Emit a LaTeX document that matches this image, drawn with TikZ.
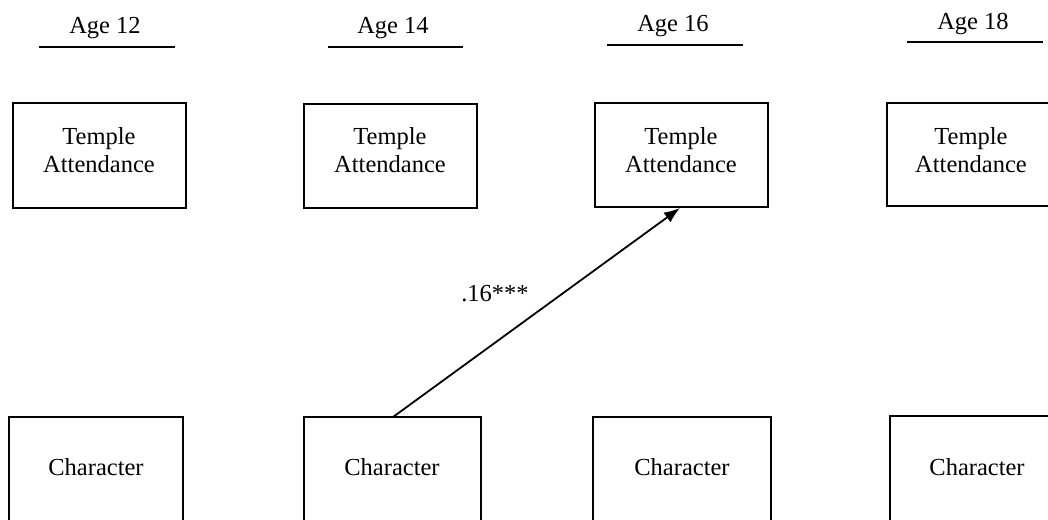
\documentclass[tikz,border=0pt]{standalone}
\usepackage{fontspec}
\setmainfont{Liberation Serif}
\usetikzlibrary{arrows.meta}
\begin{document}
\begin{tikzpicture}[x=1pt,y=-1pt,
  txt/.style={font=\fontsize{24.5}{28}\selectfont, inner sep=0pt, align=center},
  boxA/.style={draw, line width=2.3pt, rectangle},
  uline/.style={line width=1.3pt},
  arr/.style={line width=1.8pt, -{Latex[length=16pt,width=12pt]}}]
\useasboundingbox (0,0) rectangle (1048,519);
\clip (0,0) rectangle (1048,519);
% headers
\node[txt] (h1) at (105,28) {Age 12};
\node[txt] (h2) at (393,28) {Age 14};
\node[txt] (h3) at (673,26) {Age 16};
\node[txt] (h4) at (973,24) {Age 18};
\coordinate (u1a) at (39,47);  \coordinate (u1b) at (175,47);
\coordinate (u2a) at (328,47); \coordinate (u2b) at (463,47);
\coordinate (u3a) at (607,45); \coordinate (u3b) at (743,45);
\coordinate (u4a) at (907,42); \coordinate (u4b) at (1043,42);
\draw[uline] (u1a) -- (u1b);
\draw[uline] (u2a) -- (u2b);
\draw[uline] (u3a) -- (u3b);
\draw[uline] (u4a) -- (u4b);
% top boxes
\node[boxA, minimum width=173pt, minimum height=105pt] (t1) at (99.5,155.5) {};
\node[boxA, minimum width=173pt, minimum height=104pt] (t2) at (390.5,156) {};
\node[boxA, minimum width=173pt, minimum height=104pt] (t3) at (681.5,155) {};
\node[boxA, minimum width=168pt, minimum height=103pt] (t4) at (971,154.5) {};
\node[txt] (tl1) at (99,150) {Temple\\Attendance};
\node[txt] (tl2) at (390,150) {Temple\\Attendance};
\node[txt] (tl3) at (681,150) {Temple\\Attendance};
\node[txt] (tl4) at (971,150) {Temple\\Attendance};
% bottom boxes
\node[boxA, minimum width=174pt, minimum height=120pt] (c1) at (96,477) {};
\node[boxA, minimum width=177pt, minimum height=120pt] (c2) at (392.5,477) {};
\node[boxA, minimum width=178pt, minimum height=120pt] (c3) at (682,477) {};
\node[boxA, minimum width=174pt, minimum height=120pt] (c4) at (977,476) {};
\node[txt] (cl1) at (96,467) {Character};
\node[txt] (cl2) at (392,467) {Character};
\node[txt] (cl3) at (682,467) {Character};
\node[txt] (cl4) at (977,467) {Character};
% arrow
\coordinate (s) at (393,417);
\coordinate (e) at (680,208);
\draw[arr] (s) -- (e);
\node[txt] (lab) at (495,294) {.16***};
\end{tikzpicture}
\end{document}
